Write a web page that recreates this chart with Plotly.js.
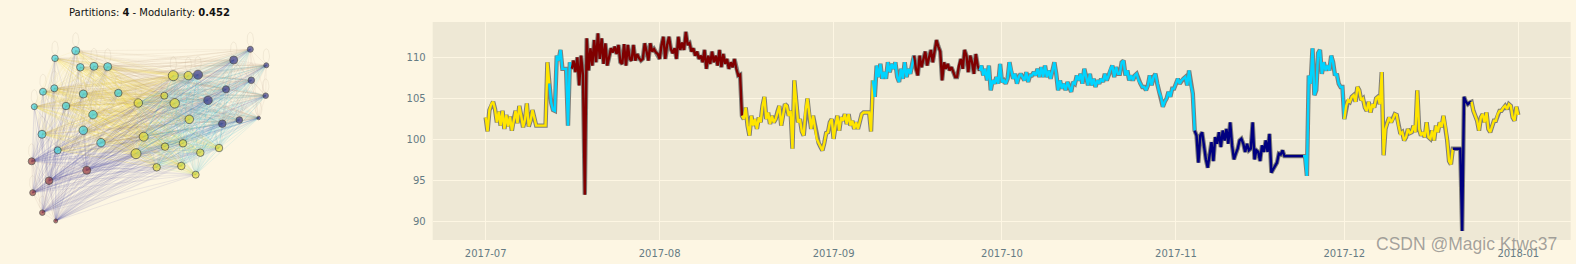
<!DOCTYPE html>
<html><head><meta charset="utf-8">
<script src="https://cdn.plot.ly/plotly-3.0.1.min.js"></script>
<style>html,body{margin:0;padding:0;background:#fdf6e3;}#chart{width:1576px;height:264px;}</style>
</head><body><div id="chart"></div>
<script>
// ---------------- time series data ----------------
const seriesStart = '2017-07-01 00:00:00';   // first sample
const stepHours = 8;                          // one sample every 8 hours
const values = [
102.7,101.0,103.6,104.3,104.6,103.7,102.1,103.4,101.7,103.5,101.3,103.0,101.6,102.8,101.1,102.5,103.5,102.0,104.1,102.9,
101.5,102.4,104.4,101.6,102.3,103.6,102.8,101.7,101.7,101.7,101.7,101.7,101.7,109.4,
106.8,104.5,103.6,103.5,110.2,109.6,110.9,108.6,108.6,108.6,101.7,109.4,
108.6,109.6,108.2,110.0,106.6,110.2,107.8,93.3,112.3,108.4,111.1,109.0,112.1,109.4,112.9,109.8,112.3,109.2,111.7,109.0,
110.0,111.1,110.6,111.3,110.4,111.5,109.4,109.2,111.6,109.0,
111.5,109.8,109.6,111.5,109.6,110.4,109.9,109.6,109.8,111.7,
110.7,109.6,111.7,110.7,111.0,110.6,110.4,109.8,111.5,112.5,
109.8,111.5,112.5,111.0,110.5,111.1,109.8,112.5,110.9,111.8,
110.9,113.1,111.5,111.7,110.7,111.1,110.2,110.7,109.8,110.2,
109.4,110.9,108.6,110.2,109.2,110.7,109.4,110.2,109.0,110.9,
108.8,110.4,109.2,109.8,108.6,109.4,108.8,109.8,108.6,107.8,
107.9,102.9,102.5,103.9,101.7,100.5,102.9,101.7,102.5,101.3,
102.7,102.1,104.1,105.2,102.5,103.3,101.9,102.9,102.1,102.5,
103.4,104.1,101.7,102.9,104.3,104.1,102.9,103.5,98.9,107.2,
104.1,102.1,102.5,101.0,100.5,103.6,105.0,102.9,101.3,102.9,
101.7,100.1,99.6,99.1,98.7,99.6,100.8,100.9,102.1,102.5,
100.1,101.7,102.9,101.1,102.7,102.3,103.1,101.9,103.1,101.7,
102.3,101.3,102.1,101.3,102.1,103.1,103.3,103.3,103.3,103.3,
101.0,107.2,105.2,109.0,107.6,109.2,107.4,108.2,107.4,109.4,
108.2,109.2,108.6,109.4,107.6,107.0,108.6,107.4,109.4,107.6,
108.6,108.0,109.2,110.2,108.6,107.8,110.2,108.8,109.8,110.7,
109.0,110.0,110.9,109.4,110.7,112.1,111.3,110.7,107.2,109.4,
108.6,109.2,108.4,108.8,108.2,107.6,107.6,109.0,109.8,108.6,
110.9,110.2,108.2,110.2,109.4,108.0,110.4,109.0,108.4,109.0,
107.8,108.6,107.2,109.0,106.0,107.2,106.8,107.6,106.8,
109.2,107.0,107.2,106.8,107.4,109.4,108.2,107.4,108.0,106.8,
107.6,108.0,107.6,107.2,108.2,107.0,107.8,107.8,108.2,107.8,
108.6,107.6,108.8,107.6,109.0,107.6,108.4,107.4,108.4,109.4,
108.0,106.0,107.2,106.2,106.8,106.0,107.0,106.4,105.8,107.0,
106.8,107.8,107.2,108.0,106.8,108.6,107.6,106.6,108.0,106.6,
107.4,106.4,107.2,106.8,107.4,107.0,108.0,107.2,107.8,108.6,
109.0,107.6,108.8,108.0,108.0,109.4,109.6,107.8,108.4,107.2,
107.8,107.2,107.8,108.0,107.2,106.8,106.4,106.4,106.0,106.6,
107.8,106.6,107.6,108.0,106.8,105.8,105.2,104.0,104.6,105.0,
105.8,105.2,106.2,106.2,106.8,107.4,106.8,107.2,107.4,107.6,
106.6,108.4,106.6,105.6,101.1,100.5,97.2,100.5,100.9,98.9,
97.6,96.6,98.3,99.7,97.4,100.3,99.5,100.9,99.1,101.1,
99.9,101.3,99.5,102.1,99.3,97.6,98.3,98.9,99.9,100.1,
99.5,98.5,99.5,98.7,98.9,102.1,97.6,98.7,98.5,
97.4,99.3,98.5,99.9,98.5,100.7,96.0,96.4,96.8,97.2,
98.3,98.2,98.7,98.0,98.0,98.0,98.0,98.0,98.0,98.0,
98.0,98.0,98.0,98.0,98.0,95.6,107.8,106.8,111.1,105.4,
106.0,110.5,110.9,108.0,109.4,108.4,109.0,108.4,110.2,109.4,
107.8,108.0,106.8,106.4,106.4,102.5,104.1,104.8,104.6,105.2,
105.4,104.6,106.4,106.0,104.8,105.0,103.9,103.5,104.6,103.3,
104.3,103.9,105.0,105.2,104.3,108.2,98.1,101.3,102.1,
102.7,102.1,102.5,103.1,103.0,101.7,100.7,100.9,99.9,100.3,
101.3,100.8,100.9,101.7,100.9,106.0,101.3,100.5,100.9,100.3,
102.1,100.3,100.1,101.1,99.9,101.7,100.9,102.1,101.5,102.9,
101.7,99.9,97.4,97.0,98.9,98.9,98.9,98.9,98.9,88.9,
105.2,104.6,104.3,104.5,104.6,103.5,102.9,102.3,101.1,102.7,
103.1,102.1,103.3,101.3,100.9,101.7,102.3,102.3,103.1,103.5,
103.5,103.9,104.1,103.7,104.3,104.1,102.7,102.3,104.0,103.0
];
// partition runs: index of first sample of each run and its partition
const runStarts     = [0,  34, 46, 137, 207, 229, 264, 379, 437, 459, 517, 527];
const runPartitions = ['Y','C','M','Y', 'C', 'M', 'C', 'N', 'C', 'Y', 'N', 'Y'];
const partitionColors = {Y:'#ffe500', C:'#00d4ff', M:'#800000', N:'#000080'};
const monthTicks  = ['2017-07-01','2017-08-01','2017-09-01','2017-10-01','2017-11-01','2017-12-01','2018-01-01'];
const monthLabels = ['2017-07','2017-08','2017-09','2017-10','2017-11','2017-12','2018-01'];
const yTicks = [90,95,100,105,110];

// ---------------- network data ----------------
const nodeX = [75.7,55,80.3,94,107.7,43,54.3,83.3,118.3,34.3,66,93,42,83.3,101,57.7,
  173.3,188.3,138.3,164.3,174.7,189.3,143.7,165,183,136,200.3,219,156.7,181.3,195.7,
  198,250.3,233.7,266.3,251.3,226,265.7,208,239.3,222.3,258.7,
  31.7,86.7,49,32.7,42.3,55.7];
const nodeY = [50.7,58.3,67.3,66.3,66.7,91.7,88.3,94,93,106.7,106,114.7,134.3,130.3,142.7,150.3,
  75.7,75.7,103,95.7,103.3,119.3,136.7,146.7,143.3,153.7,152.7,148,167.3,166,174.7,
  74.7,49.3,60,65.3,80.3,89.3,95.7,100.3,120,123.7,118,
  161.3,170.3,180.7,192.7,212.7,221];
const nodeSize = [8,6.5,7.5,8,8,7,7,8,7.5,6,7.5,8.5,8,8.5,8.5,7,
  10,8.5,8.5,7,9.5,8.5,9,7.5,7.5,10,7.5,7.5,7.5,7.5,7,
  9,6,8,5,6.5,7,5.5,8.5,6.5,7.5,3.5,
  7,8,7.5,6,5.5,4];
const nodeComm = ['C','C','C','C','C','C','C','C','C','C','C','C','C','C','C','C',
  'Y','Y','Y','Y','Y','Y','Y','Y','Y','Y','Y','Y','Y','Y','Y',
  'N','N','N','N','N','N','N','N','N','N','N',
  'M','M','M','M','M','M'];
const nodeColors = {C:'#3fd2df', Y:'#e3dc38', N:'#3d3d8c', M:'#9c4040'};
const edgeColors = {
  CC:'rgba(225,200,90,0.16)', CY:'rgba(235,212,40,0.2)', CN:'rgba(175,135,105,0.15)', CM:'rgba(70,70,160,0.17)',
  YY:'rgba(80,200,212,0.18)', NY:'rgba(60,190,215,0.2)', MY:'rgba(70,70,160,0.17)',
  NN:'rgba(160,120,105,0.15)', MN:'rgba(70,70,160,0.17)', MM:'rgba(150,90,90,0.15)'
};

// ---------------- build traces ----------------
const t0 = Date.UTC(2017,6,1,0,0,0);
function fmt(ms){ return new Date(ms).toISOString().slice(0,19).replace('T',' '); }
const xs = values.map((_,i)=>fmt(t0 + i*stepHours*3600e3));

const traces = [];
// network edges (one trace per source node and colour)
for (let i=0;i<nodeX.length;i++){
  const groups = {};
  for (let j=i+1;j<nodeX.length;j++){
    const key=[nodeComm[i],nodeComm[j]].sort().join('');
    if(!groups[key]) groups[key]={x:[],y:[]};
    groups[key].x.push(nodeX[i],nodeX[j],null);
    groups[key].y.push(nodeY[i],nodeY[j],null);
  }
  for (const k in groups){
    traces.push({type:'scatter',mode:'lines',x:groups[k].x,y:groups[k].y,xaxis:'x2',yaxis:'y2',
      line:{color:edgeColors[k],width:0.6},hoverinfo:'skip'});
  }
}
// self loops
const lx=[],ly=[];
for (let i=0;i<nodeX.length;i++){
  const r=nodeSize[i]/2;
  for(let a=0;a<=24;a++){const th=a/24*2*Math.PI; lx.push(nodeX[i]+3.2*Math.sin(th)); ly.push(nodeY[i]-r-7+7*Math.cos(th));}
  lx.push(null); ly.push(null);
}
traces.push({type:'scatter',mode:'lines',x:lx,y:ly,xaxis:'x2',yaxis:'y2',line:{color:'rgba(190,170,150,0.3)',width:0.6},hoverinfo:'skip'});
// nodes
traces.push({type:'scatter',mode:'markers',x:nodeX,y:nodeY,xaxis:'x2',yaxis:'y2',
  marker:{size:nodeSize,color:nodeComm.map(c=>nodeColors[c]),line:{color:'#2a2a2a',width:0.8}},hoverinfo:'skip'});

// series outline
traces.push({type:'scatter',mode:'lines',x:xs,y:values,line:{color:'rgba(90,90,90,0.75)',width:4.4},hoverinfo:'skip'});
// coloured runs
for (let r=0;r<runStarts.length;r++){
  const s=runStarts[r], e=(r+1<runStarts.length)?runStarts[r+1]:values.length-1;
  traces.push({type:'scatter',mode:'lines',x:xs.slice(s,e+1),y:values.slice(s,e+1),
    line:{color:partitionColors[runPartitions[r]],width:2.4},hoverinfo:'skip'});
}

const W=1576,H=264;
const layout = {
  width:W,height:H,margin:{l:0,r:0,t:0,b:0},showlegend:false,
  paper_bgcolor:'#fdf6e3',plot_bgcolor:'rgba(0,0,0,0)',
  font:{family:'DejaVu Sans',size:10,color:'#657b83'},
  xaxis:{domain:[432.7/W,1570.7/W],type:'date',range:['2017-06-21 13:26','2018-01-10 08:10'],
    tickvals:monthTicks,ticktext:monthLabels,showgrid:true,gridcolor:'#fdf6e3',gridwidth:1,
    zeroline:false,showline:false,ticks:'outside',ticklen:4,tickcolor:'rgba(0,0,0,0)',anchor:'y'},
  yaxis:{domain:[24/H,242/H],range:[87.81,114.29],tickvals:yTicks,showgrid:true,gridcolor:'#fdf6e3',gridwidth:1,
    zeroline:false,showline:false,ticks:'outside',ticklen:4,tickcolor:'rgba(0,0,0,0)',anchor:'x'},
  xaxis2:{domain:[0,300/W],range:[0,300],visible:false,anchor:'y2'},
  yaxis2:{domain:[0,1],range:[264,0],visible:false,anchor:'x2'},
  shapes:[{type:'rect',xref:'x domain',yref:'y domain',x0:0,x1:1,y0:0,y1:1,fillcolor:'#eee8d5',line:{width:0},layer:'below'}],
  annotations:[
    {xref:'paper',yref:'paper',x:149.5/W,y:1-13/H,xanchor:'center',yanchor:'middle',showarrow:false,
     text:'Partitions: <b>4</b> - Modularity: <b>0.452</b>',font:{family:'DejaVu Sans',size:10,color:'#111111'}},
    {xref:'paper',yref:'paper',x:1466/W,y:1-244/H,xanchor:'center',yanchor:'middle',showarrow:false,
     text:'CSDN @Magic Ktwc37',font:{family:'Liberation Sans',size:17.5,color:'rgba(125,125,125,0.7)'}}
  ]
};
Plotly.newPlot('chart',traces,layout,{staticPlot:true,displayModeBar:false});
</script></body></html>
